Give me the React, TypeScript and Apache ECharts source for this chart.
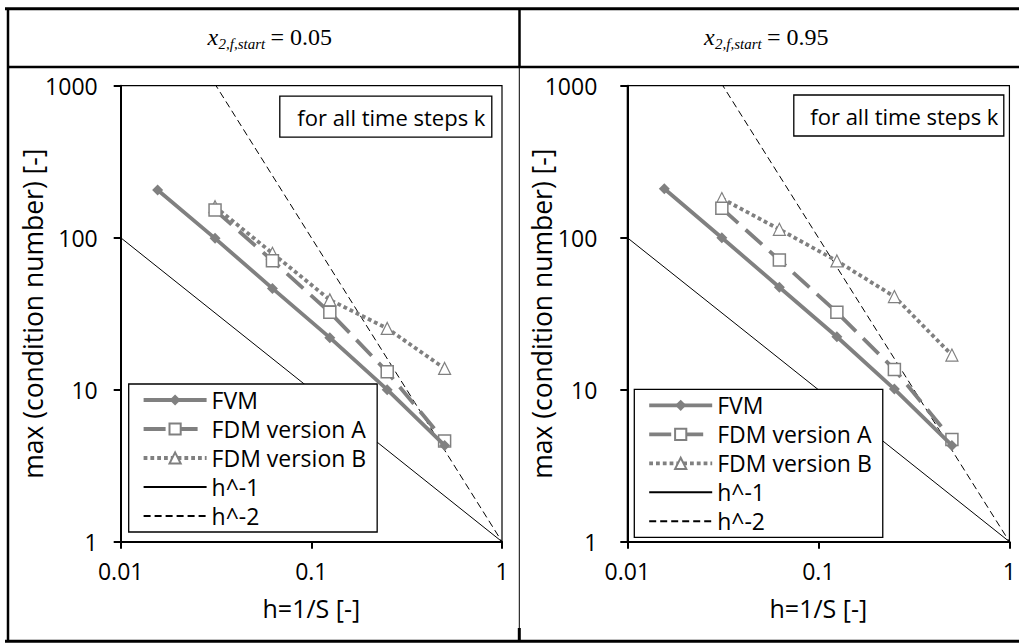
import React, { useEffect, useRef } from "react";
import * as echarts from "echarts";

// ---- data ----
const hAll = [0.015625, 0.03125, 0.0625, 0.125, 0.25, 0.5];
const hFdm = [0.03125, 0.0625, 0.125, 0.25, 0.5];
const fvmLeft = [206, 99, 46.4, 22, 10, 4.3];
const fdmALeft = [152, 70.6, 32.3, 13.1, 4.6];
const fdmBLeft = [160, 79, 39, 25.3, 13.8];
const fvmRight = [210, 100, 47.2, 22.3, 10.1, 4.3];
const fdmARight = [156, 71.3, 32.3, 13.6, 4.7];
const fdmBRight = [181, 113.5, 70.3, 41, 16.9];
const hRef = [0.01, 1];
const refH1 = [100, 1];
const refH2 = [10000, 1];
const seriesNames = ["FVM", "FDM version A", "FDM version B", "h^-1", "h^-2"];
const panelTitles = ["0.05", "0.95"];
const xAxisName = "h=1/S [-]";
const yAxisName = "max (condition number) [-]";
const boxText = "for all time steps k";

const GRAY = "#808080";
const FONT = "Open Sans";

const pairs = (xs: number[], ys: number[]) => xs.map((x, i) => [x, ys[i]]);

function makeSeries(idx: number, fvm: number[], a: number[], b: number[]) {
  return [
    {
      name: seriesNames[0], type: "line", xAxisIndex: idx, yAxisIndex: idx,
      data: pairs(hAll, fvm), symbol: "diamond", symbolSize: 11,
      lineStyle: { color: GRAY, width: 3.8 }, itemStyle: { color: GRAY }, z: 5,
    },
    {
      name: seriesNames[1], type: "line", xAxisIndex: idx, yAxisIndex: idx,
      data: pairs(hFdm, a), symbol: "rect", symbolSize: 12,
      lineStyle: { color: GRAY, width: 3.8, type: [22, 10] },
      itemStyle: { color: "#ffffff", borderColor: GRAY, borderWidth: 1.5 }, z: 4,
    },
    {
      name: seriesNames[2], type: "line", xAxisIndex: idx, yAxisIndex: idx,
      data: pairs(hFdm, b), symbol: "triangle", symbolSize: 12,
      lineStyle: { color: GRAY, width: 3.8, type: [3.8, 3] },
      itemStyle: { color: "#ffffff", borderColor: GRAY, borderWidth: 1.2 }, z: 3,
    },
    {
      name: seriesNames[3], type: "line", xAxisIndex: idx, yAxisIndex: idx,
      data: pairs(hRef, refH1), symbol: "none",
      lineStyle: { color: "#000", width: 1 }, itemStyle: { color: "#000" }, z: 2,
    },
    {
      name: seriesNames[4], type: "line", xAxisIndex: idx, yAxisIndex: idx,
      data: pairs(hRef, refH2), symbol: "none",
      lineStyle: { color: "#000", width: 1, type: [7, 4] }, itemStyle: { color: "#000" }, z: 2,
    },
  ];
}

const grids = [
  { left: 120.7, top: 85.7, width: 381.3, height: 456 },
  { left: 627.3, top: 85.7, width: 386, height: 456 },
];

export default function App() {
  const ref = useRef<HTMLDivElement>(null);
  useEffect(() => {
    if (!ref.current) return;
    const chart = echarts.init(ref.current, null, { renderer: "svg" });
    const axisBase = {
      axisLine: { show: true, lineStyle: { color: "#000", width: 2 } },
      axisTick: { show: true, inside: false, length: 7, lineStyle: { color: "#000", width: 2 } },
      splitLine: { show: false },
      minorTick: { show: false },
      nameMoveOverlap: false,
    };
    const fmt = (v: number) => String(v);
    const xAxes = grids.map((_, i) => ({
      ...axisBase, type: "log", logBase: 10, gridIndex: i, min: 0.01, max: 1,
      name: xAxisName, nameLocation: "middle", nameGap: 54,
      nameTextStyle: { fontFamily: FONT, fontSize: 25, color: "#000" },
      axisLabel: { fontFamily: FONT, fontSize: 23, color: "#000", margin: 18, formatter: fmt, showMaxLabel: true, showMinLabel: true },
    }));
    const yAxes = grids.map((_, i) => ({
      ...axisBase, type: "log", logBase: 10, gridIndex: i, min: 1, max: 1000,
      name: yAxisName, nameLocation: "middle", nameGap: i === 0 ? 74 : 72,
      nameTextStyle: { fontFamily: FONT, fontSize: 26.5, color: "#000" },
      axisLabel: { fontFamily: FONT, fontSize: 23, color: "#000", margin: i === 0 ? 23 : 30, formatter: fmt },
    }));
    const hidden = { color: "rgba(0,0,0,0)", borderWidth: 0, borderColor: "rgba(0,0,0,0)" };
    const thick = { width: 3.8 };
    const legendBase = {
      orient: "vertical", itemWidth: 63, itemHeight: 14, itemGap: 3,
      borderColor: "#000", borderWidth: 1.3, backgroundColor: "#fff",
      textStyle: { fontFamily: FONT, fontSize: 23, color: "#000", lineHeight: 26 },
      data: [
        { name: seriesNames[0], lineStyle: thick },
        { name: seriesNames[1], lineStyle: thick },
        { name: seriesNames[2], lineStyle: thick },
        { name: seriesNames[3], itemStyle: hidden },
        { name: seriesNames[4], itemStyle: hidden },
      ],
    };
    const headerFont = "Liberation Serif";
    const header = (cx: number, val: string) => ({
      type: "group", left: cx - 56, top: 25,
      children: [
        { type: "text", x: 0, y: 0, style: { text: "x", fontFamily: headerFont, fontStyle: "italic", fontSize: 24, fill: "#000" } },
        { type: "text", x: 11, y: 11, style: { text: "2,f,start", fontFamily: headerFont, fontStyle: "italic", fontSize: 15, fill: "#000" } },
        { type: "text", x: 63, y: 0, style: { text: "= " + val, fontFamily: headerFont, fontSize: 24, fill: "#000" } },
      ],
    });
    chart.setOption({
      animation: false,
      backgroundColor: "#fff",
      grid: grids.map((g) => ({ ...g, show: true, borderColor: "#000", borderWidth: 1.2, backgroundColor: "transparent" })),
      xAxis: xAxes,
      yAxis: yAxes,
      title: [
        {
          text: boxText, left: 279.3, top: 95.7, padding: [6, 7, 6, 18],
          borderColor: "#000", borderWidth: 1.3, backgroundColor: "#fff",
          textStyle: { fontFamily: FONT, fontSize: 22, fontWeight: "normal", color: "#000", lineHeight: 30 },
        },
        {
          text: boxText, left: 793.3, top: 94.5, padding: [6, 6, 6, 17],
          borderColor: "#000", borderWidth: 1.3, backgroundColor: "#fff",
          textStyle: { fontFamily: FONT, fontSize: 22, fontWeight: "normal", color: "#000", lineHeight: 30 },
        },
      ],
      legend: [
        { ...legendBase, left: 128.7, top: 384, padding: [3, 11, 3, 13] },
        { ...legendBase, left: 634.3, top: 389.3, padding: [3, 11, 3, 13] },
      ],
      series: [...makeSeries(0, fvmLeft, fdmALeft, fdmBLeft), ...makeSeries(1, fvmRight, fdmARight, fdmBRight)],
      graphic: [
        { type: "line", shape: { x1: 5, y1: 8.7, x2: 1019, y2: 8.7 }, style: { stroke: "#000", lineWidth: 3 } },
        { type: "line", shape: { x1: 8, y1: 8.7, x2: 8, y2: 641.3 }, style: { stroke: "#000", lineWidth: 2.5 } },
        { type: "line", shape: { x1: 5, y1: 641.3, x2: 1019, y2: 641.3 }, style: { stroke: "#000", lineWidth: 3 } },
        { type: "line", shape: { x1: 8, y1: 67, x2: 1019, y2: 67 }, style: { stroke: "#000", lineWidth: 2.5 } },
        { type: "line", shape: { x1: 519.5, y1: 8.7, x2: 519.5, y2: 67 }, style: { stroke: "#000", lineWidth: 2.5 } },
        { type: "line", shape: { x1: 519.3, y1: 67, x2: 519.3, y2: 641 }, style: { stroke: "#000", lineWidth: 1 } },
        { type: "line", shape: { x1: 519.3, y1: 628, x2: 519.3, y2: 641 }, style: { stroke: "#000", lineWidth: 3 } },
        header(263.5, panelTitles[0]),
        header(760, panelTitles[1]),
      ],
    });
    return () => chart.dispose();
  }, []);
  return <div ref={ref} style={{ position: "fixed", left: 0, top: 0, width: 1019, height: 644 }} />;
}
